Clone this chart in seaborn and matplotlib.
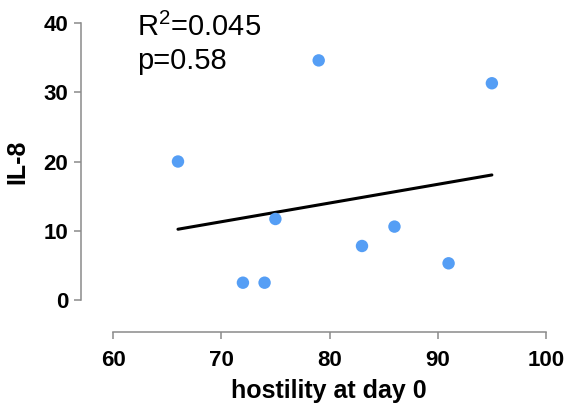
import matplotlib
matplotlib.use("Agg")
import matplotlib.pyplot as plt
import seaborn as sns
import pandas as pd

# data
hostility = [66, 72, 74, 75, 79, 83, 86, 91, 95]
il8 = [20.0, 2.5, 2.5, 11.7, 34.6, 7.8, 10.6, 5.3, 31.3]
x_ticks = [60, 70, 80, 90, 100]
y_ticks = [0, 10, 20, 30, 40]
r2_text = r"R$^{\mathregular{2}}$=0.045"
p_text = "p=0.58"

df = pd.DataFrame({"hostility at day 0": hostility, "IL-8": il8})

sns.set_style("white")
plt.rcParams["font.family"] = ["Liberation Sans", "DejaVu Sans"]
plt.rcParams["mathtext.fontset"] = "custom"
plt.rcParams["mathtext.rm"] = "Liberation Sans"
plt.rcParams["text.color"] = "black"
plt.rcParams["axes.labelcolor"] = "black"
plt.rcParams["xtick.labelcolor"] = "black"
plt.rcParams["ytick.labelcolor"] = "black"

fig = plt.figure(figsize=(5.69, 4.13), dpi=100)
ax = fig.add_axes([81 / 569, 81 / 413, 465 / 569, 309 / 413])

sns.regplot(
    data=df, x="hostility at day 0", y="IL-8", ci=None, ax=ax,
    scatter_kws=dict(s=80, color="#559ef5", edgecolor="none", alpha=1, zorder=3, clip_on=False),
    line_kws=dict(color="black", lw=2.2, zorder=2),
)

ax.set_xlim(57.04, 100)
ax.set_ylim(-4.62, 40)
ax.set_xticks(x_ticks)
ax.set_yticks(y_ticks)

for side in ["top", "right"]:
    ax.spines[side].set_visible(False)
for side in ["left", "bottom"]:
    ax.spines[side].set_color("#8a8a8a")
    ax.spines[side].set_linewidth(1.1)
ax.spines["left"].set_bounds(0, 40)
ax.spines["bottom"].set_bounds(60, 100)

ax.tick_params(axis="both", direction="out", length=5, width=1.1, color="#8a8a8a",
               labelsize=16, left=True, bottom=True)
ax.tick_params(axis="x", pad=8)
ax.tick_params(axis="y", pad=4)
for lab in ax.get_xticklabels() + ax.get_yticklabels():
    lab.set_fontweight("bold")

# labels centred on the trimmed spines, not on the whole axes
ax.set_xlabel("hostility at day 0", fontsize=18, fontweight="bold")
ax.set_ylabel("IL-8", fontsize=18, fontweight="bold", labelpad=10)
ax.xaxis.set_label_coords(0.534, -0.152)
ax.yaxis.label.set_y(0.552)

ax.text(137 / 569, 1 - 36 / 413, r2_text, transform=fig.transFigure, fontsize=21, va="baseline")
ax.text(137 / 569, 1 - 69 / 413, p_text, transform=fig.transFigure, fontsize=21, va="baseline")

fig.savefig("out.png", dpi=100)
